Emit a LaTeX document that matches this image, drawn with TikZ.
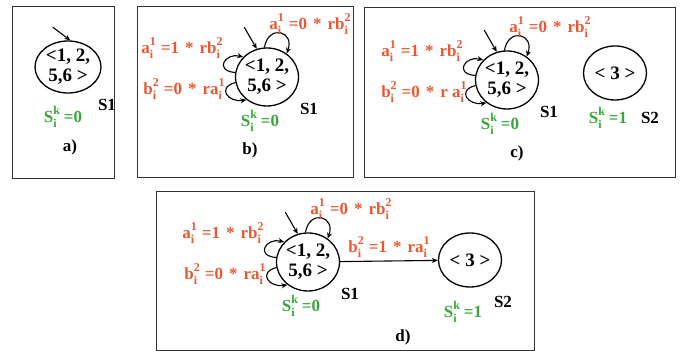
\documentclass[tikz,border=0pt]{standalone}
\usepackage{fontspec}
\setmainfont{Liberation Serif}
\usetikzlibrary{shapes.geometric,arrows.meta}
\definecolor{laranja}{RGB}{232,88,50}
\definecolor{verdeS}{RGB}{58,165,58}
\newcommand{\SubSup}[3]{#1{\fontsize{12}{12}\selectfont\ooalign{\raisebox{.7em}{#2}\cr\raisebox{-.4em}{#3}\cr}}}
\newcommand{\Regra}[3]{#1\hspace{5pt}=#2\hspace{6pt}*\hspace{6pt}#3}
% estado S1 com os tres lacos: #1 nome, #2 centro, #3 texto do laco de baixo
\newcommand{\EstadoUm}[3]{%
\node[estado](#1)at(#2){<1, 2,\\5,6 >};
\coordinate(#1i)at([shift={(120:25)}]#1.110);\draw[seta](#1i)--(#1.110);
\draw[seta](#1.95)..controls +(80:24) and +(70:24)..(#1.50);
\draw[seta](#1.172)..controls +(175:22) and +(165:18)..(#1.140);
\draw[seta](#1.190)..controls +(195:20) and +(190:18)..(#1.228);
\node[rotulo](#1la)at([shift={(43,53)}]#1.center){\Regra{\SubSup{a}{1}{i}}{0}{r\SubSup{b}{2}{i}}};
\node[rotulo](#1lb)at([shift={(-85,29)}]#1.center){\Regra{\SubSup{a}{1}{i}}{1}{r\SubSup{b}{2}{i}}};
\node[rotulo](#1lc)at([shift={(-83,-12)}]#1.center){#3};
\node(#1n)at([shift={(42,-32)}]#1.center){S1};
\node[verde](#1s)at([shift={(-7,-44)}]#1.center){\SubSup{S}{k}{i}\hspace{4pt}=0};}

\begin{document}
\begin{tikzpicture}[x=1pt,y=1pt,
  every node/.style={font=\bfseries\fontsize{17}{19}\selectfont,inner sep=1pt},
  estado/.style={draw,line width=1.3pt,ellipse,minimum width=63pt,minimum height=58pt,inner sep=0pt,
    align=center,font=\bfseries\fontsize{19}{20}\selectfont},
  caixa/.style={draw=black!80,line width=1pt},
  seta/.style={line width=1.1pt,-{Stealth[length=6pt,width=5pt]}},
  rotulo/.style={text=laranja},
  verde/.style={text=verdeS}]
\useasboundingbox(0,0)rectangle(681,352);
% quadros
\draw[caixa](12,173)rectangle(114,345);
\draw[caixa](137,174)rectangle(353,345);
\draw[caixa](364,174)rectangle(675,344);
\draw[caixa](156,1)rectangle(534,160);
% a)
\node[estado,minimum width=66pt,minimum height=52pt](a1)at(68,285){<1, 2,\\5,6 >};
\coordinate(a1i)at([shift={(143:22)}]a1.85);\draw[seta](a1i)--(a1.85);
\node(a1n)at(107,247){S1};
\node[verde](a1s)at(63,235){\SubSup{S}{k}{i}\hspace{4pt}=0};
\node(rotA)at(70,205){a)};
% b)
\EstadoUm{b1}{267,275}{\Regra{\SubSup{b}{2}{i}}{0}{r\SubSup{a}{1}{i}}}
\node(rotB)at(250,202){b)};
% c)
\EstadoUm{c1}{507,272}{\Regra{\SubSup{b}{2}{i}}{0}{r \SubSup{a}{1}{i}}}
\node[estado,minimum height=54pt](c2)at(615,279){< 3 >};
\node[verde](c2s)at(608,234){\SubSup{S}{k}{i}\hspace{4pt}=1};
\node(c2n)at(650,234){S2};
\node(rotC)at(517,199){c)};
% d)
\EstadoUm{d1}{308,90}{\Regra{\SubSup{b}{2}{i}}{0}{r\SubSup{a}{1}{i}}}
\node[estado,minimum height=54pt](d2)at(470,92){< 3 >};
\draw[seta](d1)--node[rotulo,above=2pt]{\Regra{\SubSup{b}{2}{i}}{1}{r\SubSup{a}{1}{i}}}(d2);
\node[verde](d2s)at(463,40){\SubSup{S}{k}{i}\hspace{4pt}=1};
\node(d2n)at(503,50){S2};
\node(rotD)at(403,15){d)};
\end{tikzpicture}
\end{document}
